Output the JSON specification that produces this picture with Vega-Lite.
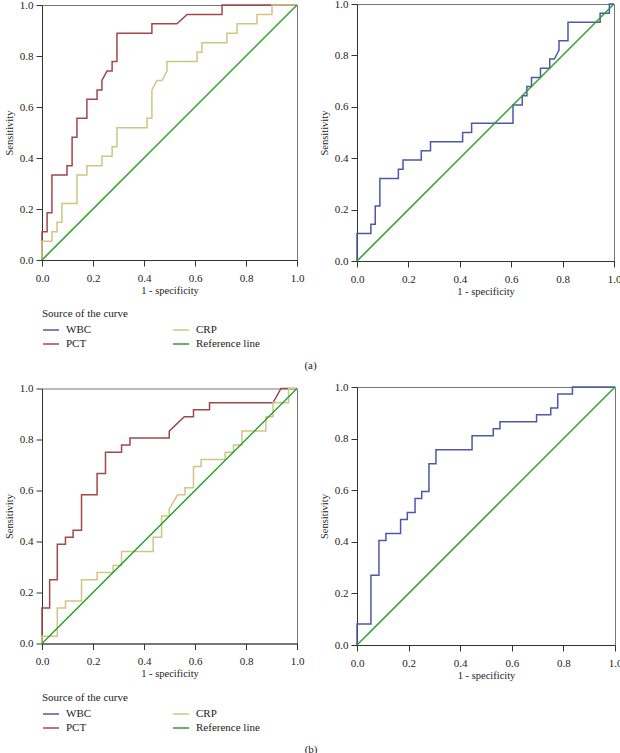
{
  "$schema": "https://vega.github.io/schema/vega-lite/v6.json",
  "padding": {"left": 3, "top": -3, "right": 0, "bottom": 0},
  "datasets": {
    "roc": [
      {"p":"a1","s":"PCT","o":0,"x":0,"y":0},{"p":"a1","s":"PCT","o":1,"x":0,"y":0.111},{"p":"a1","s":"PCT","o":2,"x":0.02,"y":0.111},{"p":"a1","s":"PCT","o":3,"x":0.02,"y":0.185},{"p":"a1","s":"PCT","o":4,"x":0.039,"y":0.185},{"p":"a1","s":"PCT","o":5,"x":0.039,"y":0.333},{"p":"a1","s":"PCT","o":6,"x":0.098,"y":0.333},{"p":"a1","s":"PCT","o":7,"x":0.098,"y":0.37},{"p":"a1","s":"PCT","o":8,"x":0.118,"y":0.37},{"p":"a1","s":"PCT","o":9,"x":0.118,"y":0.481},{"p":"a1","s":"PCT","o":10,"x":0.137,"y":0.481},{"p":"a1","s":"PCT","o":11,"x":0.137,"y":0.556},{"p":"a1","s":"PCT","o":12,"x":0.176,"y":0.556},{"p":"a1","s":"PCT","o":13,"x":0.176,"y":0.63},{"p":"a1","s":"PCT","o":14,"x":0.216,"y":0.63},{"p":"a1","s":"PCT","o":15,"x":0.216,"y":0.667},{"p":"a1","s":"PCT","o":16,"x":0.235,"y":0.667},{"p":"a1","s":"PCT","o":17,"x":0.235,"y":0.704},{"p":"a1","s":"PCT","o":18,"x":0.255,"y":0.741},{"p":"a1","s":"PCT","o":19,"x":0.275,"y":0.741},{"p":"a1","s":"PCT","o":20,"x":0.275,"y":0.778},{"p":"a1","s":"PCT","o":21,"x":0.294,"y":0.778},{"p":"a1","s":"PCT","o":22,"x":0.294,"y":0.889},{"p":"a1","s":"PCT","o":23,"x":0.431,"y":0.889},{"p":"a1","s":"PCT","o":24,"x":0.431,"y":0.926},{"p":"a1","s":"PCT","o":25,"x":0.529,"y":0.926},{"p":"a1","s":"PCT","o":26,"x":0.569,"y":0.963},{"p":"a1","s":"PCT","o":27,"x":0.706,"y":0.963},{"p":"a1","s":"PCT","o":28,"x":0.706,"y":1},{"p":"a1","s":"PCT","o":29,"x":1,"y":1},
      {"p":"a1","s":"CRP","o":0,"x":0,"y":0},{"p":"a1","s":"CRP","o":1,"x":0,"y":0.074},{"p":"a1","s":"CRP","o":2,"x":0.039,"y":0.074},{"p":"a1","s":"CRP","o":3,"x":0.039,"y":0.111},{"p":"a1","s":"CRP","o":4,"x":0.059,"y":0.111},{"p":"a1","s":"CRP","o":5,"x":0.059,"y":0.148},{"p":"a1","s":"CRP","o":6,"x":0.078,"y":0.148},{"p":"a1","s":"CRP","o":7,"x":0.078,"y":0.222},{"p":"a1","s":"CRP","o":8,"x":0.137,"y":0.222},{"p":"a1","s":"CRP","o":9,"x":0.137,"y":0.333},{"p":"a1","s":"CRP","o":10,"x":0.176,"y":0.333},{"p":"a1","s":"CRP","o":11,"x":0.176,"y":0.37},{"p":"a1","s":"CRP","o":12,"x":0.235,"y":0.37},{"p":"a1","s":"CRP","o":13,"x":0.235,"y":0.407},{"p":"a1","s":"CRP","o":14,"x":0.275,"y":0.407},{"p":"a1","s":"CRP","o":15,"x":0.275,"y":0.444},{"p":"a1","s":"CRP","o":16,"x":0.294,"y":0.444},{"p":"a1","s":"CRP","o":17,"x":0.294,"y":0.519},{"p":"a1","s":"CRP","o":18,"x":0.412,"y":0.519},{"p":"a1","s":"CRP","o":19,"x":0.412,"y":0.556},{"p":"a1","s":"CRP","o":20,"x":0.431,"y":0.556},{"p":"a1","s":"CRP","o":21,"x":0.431,"y":0.667},{"p":"a1","s":"CRP","o":22,"x":0.451,"y":0.704},{"p":"a1","s":"CRP","o":23,"x":0.471,"y":0.704},{"p":"a1","s":"CRP","o":24,"x":0.49,"y":0.741},{"p":"a1","s":"CRP","o":25,"x":0.49,"y":0.778},{"p":"a1","s":"CRP","o":26,"x":0.608,"y":0.778},{"p":"a1","s":"CRP","o":27,"x":0.608,"y":0.815},{"p":"a1","s":"CRP","o":28,"x":0.627,"y":0.815},{"p":"a1","s":"CRP","o":29,"x":0.627,"y":0.852},{"p":"a1","s":"CRP","o":30,"x":0.725,"y":0.852},{"p":"a1","s":"CRP","o":31,"x":0.725,"y":0.889},{"p":"a1","s":"CRP","o":32,"x":0.765,"y":0.889},{"p":"a1","s":"CRP","o":33,"x":0.765,"y":0.926},{"p":"a1","s":"CRP","o":34,"x":0.843,"y":0.926},{"p":"a1","s":"CRP","o":35,"x":0.843,"y":0.963},{"p":"a1","s":"CRP","o":36,"x":0.902,"y":0.963},{"p":"a1","s":"CRP","o":37,"x":0.902,"y":1},{"p":"a1","s":"CRP","o":38,"x":1,"y":1},
      {"p":"a1","s":"Reference line","o":0,"x":0,"y":0},{"p":"a1","s":"Reference line","o":1,"x":1,"y":1},
      {"p":"a2","s":"WBC","o":0,"x":0,"y":0},{"p":"a2","s":"WBC","o":1,"x":0,"y":0.107},{"p":"a2","s":"WBC","o":2,"x":0.054,"y":0.107},{"p":"a2","s":"WBC","o":3,"x":0.054,"y":0.143},{"p":"a2","s":"WBC","o":4,"x":0.071,"y":0.143},{"p":"a2","s":"WBC","o":5,"x":0.071,"y":0.214},{"p":"a2","s":"WBC","o":6,"x":0.089,"y":0.214},{"p":"a2","s":"WBC","o":7,"x":0.089,"y":0.321},{"p":"a2","s":"WBC","o":8,"x":0.161,"y":0.321},{"p":"a2","s":"WBC","o":9,"x":0.161,"y":0.357},{"p":"a2","s":"WBC","o":10,"x":0.179,"y":0.357},{"p":"a2","s":"WBC","o":11,"x":0.179,"y":0.393},{"p":"a2","s":"WBC","o":12,"x":0.25,"y":0.393},{"p":"a2","s":"WBC","o":13,"x":0.25,"y":0.429},{"p":"a2","s":"WBC","o":14,"x":0.286,"y":0.429},{"p":"a2","s":"WBC","o":15,"x":0.286,"y":0.464},{"p":"a2","s":"WBC","o":16,"x":0.411,"y":0.464},{"p":"a2","s":"WBC","o":17,"x":0.411,"y":0.5},{"p":"a2","s":"WBC","o":18,"x":0.446,"y":0.5},{"p":"a2","s":"WBC","o":19,"x":0.446,"y":0.536},{"p":"a2","s":"WBC","o":20,"x":0.607,"y":0.536},{"p":"a2","s":"WBC","o":21,"x":0.607,"y":0.607},{"p":"a2","s":"WBC","o":22,"x":0.643,"y":0.607},{"p":"a2","s":"WBC","o":23,"x":0.643,"y":0.643},{"p":"a2","s":"WBC","o":24,"x":0.661,"y":0.643},{"p":"a2","s":"WBC","o":25,"x":0.661,"y":0.679},{"p":"a2","s":"WBC","o":26,"x":0.679,"y":0.679},{"p":"a2","s":"WBC","o":27,"x":0.679,"y":0.714},{"p":"a2","s":"WBC","o":28,"x":0.714,"y":0.714},{"p":"a2","s":"WBC","o":29,"x":0.714,"y":0.75},{"p":"a2","s":"WBC","o":30,"x":0.75,"y":0.75},{"p":"a2","s":"WBC","o":31,"x":0.75,"y":0.786},{"p":"a2","s":"WBC","o":32,"x":0.768,"y":0.786},{"p":"a2","s":"WBC","o":33,"x":0.786,"y":0.821},{"p":"a2","s":"WBC","o":34,"x":0.786,"y":0.857},{"p":"a2","s":"WBC","o":35,"x":0.821,"y":0.857},{"p":"a2","s":"WBC","o":36,"x":0.821,"y":0.929},{"p":"a2","s":"WBC","o":37,"x":0.946,"y":0.929},{"p":"a2","s":"WBC","o":38,"x":0.946,"y":0.964},{"p":"a2","s":"WBC","o":39,"x":0.982,"y":0.964},{"p":"a2","s":"WBC","o":40,"x":0.982,"y":1},{"p":"a2","s":"WBC","o":41,"x":1,"y":1},
      {"p":"a2","s":"Reference line","o":0,"x":0,"y":0},{"p":"a2","s":"Reference line","o":1,"x":1,"y":1},
      {"p":"b1","s":"PCT","o":0,"x":0,"y":0},{"p":"b1","s":"PCT","o":1,"x":0,"y":0.139},{"p":"b1","s":"PCT","o":2,"x":0.03,"y":0.139},{"p":"b1","s":"PCT","o":3,"x":0.03,"y":0.25},{"p":"b1","s":"PCT","o":4,"x":0.06,"y":0.25},{"p":"b1","s":"PCT","o":5,"x":0.06,"y":0.389},{"p":"b1","s":"PCT","o":6,"x":0.092,"y":0.389},{"p":"b1","s":"PCT","o":7,"x":0.092,"y":0.417},{"p":"b1","s":"PCT","o":8,"x":0.122,"y":0.417},{"p":"b1","s":"PCT","o":9,"x":0.122,"y":0.444},{"p":"b1","s":"PCT","o":10,"x":0.155,"y":0.444},{"p":"b1","s":"PCT","o":11,"x":0.155,"y":0.583},{"p":"b1","s":"PCT","o":12,"x":0.216,"y":0.583},{"p":"b1","s":"PCT","o":13,"x":0.216,"y":0.667},{"p":"b1","s":"PCT","o":14,"x":0.249,"y":0.667},{"p":"b1","s":"PCT","o":15,"x":0.249,"y":0.75},{"p":"b1","s":"PCT","o":16,"x":0.312,"y":0.75},{"p":"b1","s":"PCT","o":17,"x":0.312,"y":0.778},{"p":"b1","s":"PCT","o":18,"x":0.345,"y":0.778},{"p":"b1","s":"PCT","o":19,"x":0.345,"y":0.806},{"p":"b1","s":"PCT","o":20,"x":0.499,"y":0.806},{"p":"b1","s":"PCT","o":21,"x":0.499,"y":0.833},{"p":"b1","s":"PCT","o":22,"x":0.558,"y":0.889},{"p":"b1","s":"PCT","o":23,"x":0.594,"y":0.889},{"p":"b1","s":"PCT","o":24,"x":0.594,"y":0.917},{"p":"b1","s":"PCT","o":25,"x":0.657,"y":0.917},{"p":"b1","s":"PCT","o":26,"x":0.657,"y":0.944},{"p":"b1","s":"PCT","o":27,"x":0.906,"y":0.944},{"p":"b1","s":"PCT","o":28,"x":0.937,"y":1},{"p":"b1","s":"PCT","o":29,"x":1,"y":1},
      {"p":"b1","s":"CRP","o":0,"x":0,"y":0},{"p":"b1","s":"CRP","o":1,"x":0,"y":0.028},{"p":"b1","s":"CRP","o":2,"x":0.06,"y":0.028},{"p":"b1","s":"CRP","o":3,"x":0.06,"y":0.139},{"p":"b1","s":"CRP","o":4,"x":0.092,"y":0.139},{"p":"b1","s":"CRP","o":5,"x":0.092,"y":0.167},{"p":"b1","s":"CRP","o":6,"x":0.155,"y":0.167},{"p":"b1","s":"CRP","o":7,"x":0.155,"y":0.25},{"p":"b1","s":"CRP","o":8,"x":0.216,"y":0.25},{"p":"b1","s":"CRP","o":9,"x":0.216,"y":0.278},{"p":"b1","s":"CRP","o":10,"x":0.279,"y":0.278},{"p":"b1","s":"CRP","o":11,"x":0.279,"y":0.306},{"p":"b1","s":"CRP","o":12,"x":0.312,"y":0.306},{"p":"b1","s":"CRP","o":13,"x":0.312,"y":0.361},{"p":"b1","s":"CRP","o":14,"x":0.436,"y":0.361},{"p":"b1","s":"CRP","o":15,"x":0.436,"y":0.417},{"p":"b1","s":"CRP","o":16,"x":0.469,"y":0.417},{"p":"b1","s":"CRP","o":17,"x":0.469,"y":0.5},{"p":"b1","s":"CRP","o":18,"x":0.499,"y":0.5},{"p":"b1","s":"CRP","o":19,"x":0.499,"y":0.528},{"p":"b1","s":"CRP","o":20,"x":0.532,"y":0.583},{"p":"b1","s":"CRP","o":21,"x":0.561,"y":0.583},{"p":"b1","s":"CRP","o":22,"x":0.561,"y":0.611},{"p":"b1","s":"CRP","o":23,"x":0.594,"y":0.611},{"p":"b1","s":"CRP","o":24,"x":0.594,"y":0.694},{"p":"b1","s":"CRP","o":25,"x":0.624,"y":0.694},{"p":"b1","s":"CRP","o":26,"x":0.624,"y":0.722},{"p":"b1","s":"CRP","o":27,"x":0.718,"y":0.722},{"p":"b1","s":"CRP","o":28,"x":0.718,"y":0.75},{"p":"b1","s":"CRP","o":29,"x":0.751,"y":0.75},{"p":"b1","s":"CRP","o":30,"x":0.751,"y":0.778},{"p":"b1","s":"CRP","o":31,"x":0.784,"y":0.778},{"p":"b1","s":"CRP","o":32,"x":0.784,"y":0.833},{"p":"b1","s":"CRP","o":33,"x":0.878,"y":0.833},{"p":"b1","s":"CRP","o":34,"x":0.878,"y":0.889},{"p":"b1","s":"CRP","o":35,"x":0.906,"y":0.889},{"p":"b1","s":"CRP","o":36,"x":0.906,"y":0.944},{"p":"b1","s":"CRP","o":37,"x":0.967,"y":0.944},{"p":"b1","s":"CRP","o":38,"x":0.967,"y":1},{"p":"b1","s":"CRP","o":39,"x":1,"y":1},
      {"p":"b1","s":"Reference line","o":0,"x":0,"y":0},{"p":"b1","s":"Reference line","o":1,"x":1,"y":1},
      {"p":"b2","s":"WBC","o":0,"x":0,"y":0},{"p":"b2","s":"WBC","o":1,"x":0,"y":0.081},{"p":"b2","s":"WBC","o":2,"x":0.054,"y":0.081},{"p":"b2","s":"WBC","o":3,"x":0.054,"y":0.27},{"p":"b2","s":"WBC","o":4,"x":0.085,"y":0.27},{"p":"b2","s":"WBC","o":5,"x":0.085,"y":0.405},{"p":"b2","s":"WBC","o":6,"x":0.112,"y":0.405},{"p":"b2","s":"WBC","o":7,"x":0.112,"y":0.432},{"p":"b2","s":"WBC","o":8,"x":0.169,"y":0.432},{"p":"b2","s":"WBC","o":9,"x":0.169,"y":0.486},{"p":"b2","s":"WBC","o":10,"x":0.195,"y":0.486},{"p":"b2","s":"WBC","o":11,"x":0.195,"y":0.514},{"p":"b2","s":"WBC","o":12,"x":0.225,"y":0.514},{"p":"b2","s":"WBC","o":13,"x":0.225,"y":0.568},{"p":"b2","s":"WBC","o":14,"x":0.251,"y":0.568},{"p":"b2","s":"WBC","o":15,"x":0.251,"y":0.595},{"p":"b2","s":"WBC","o":16,"x":0.279,"y":0.595},{"p":"b2","s":"WBC","o":17,"x":0.279,"y":0.703},{"p":"b2","s":"WBC","o":18,"x":0.306,"y":0.703},{"p":"b2","s":"WBC","o":19,"x":0.306,"y":0.757},{"p":"b2","s":"WBC","o":20,"x":0.446,"y":0.757},{"p":"b2","s":"WBC","o":21,"x":0.446,"y":0.811},{"p":"b2","s":"WBC","o":22,"x":0.528,"y":0.811},{"p":"b2","s":"WBC","o":23,"x":0.528,"y":0.838},{"p":"b2","s":"WBC","o":24,"x":0.554,"y":0.838},{"p":"b2","s":"WBC","o":25,"x":0.554,"y":0.865},{"p":"b2","s":"WBC","o":26,"x":0.696,"y":0.865},{"p":"b2","s":"WBC","o":27,"x":0.696,"y":0.892},{"p":"b2","s":"WBC","o":28,"x":0.751,"y":0.892},{"p":"b2","s":"WBC","o":29,"x":0.751,"y":0.919},{"p":"b2","s":"WBC","o":30,"x":0.778,"y":0.919},{"p":"b2","s":"WBC","o":31,"x":0.778,"y":0.973},{"p":"b2","s":"WBC","o":32,"x":0.835,"y":0.973},{"p":"b2","s":"WBC","o":33,"x":0.835,"y":1},{"p":"b2","s":"WBC","o":34,"x":1,"y":1},
      {"p":"b2","s":"Reference line","o":0,"x":0,"y":0},{"p":"b2","s":"Reference line","o":1,"x":1,"y":1}
    ]
  },
  "data": {"name": "roc"},
  "config": {
    "font": "Liberation Serif",
    "view": {"stroke": "#777", "strokeWidth": 1},
    "axis": {"grid": false, "labelFlush": false, "domainColor": "#333", "tickColor": "#333", "labelFontSize": 11, "titleFontSize": 10.5, "titleFontWeight": "normal", "labelColor": "#222", "titleColor": "#222", "tickSize": 6},
    "axisX": {"labelPadding": 6, "titlePadding": 2},
    "axisY": {"labelPadding": 3, "titlePadding": 5},
    "legend": {"orient": "bottom", "columns": 2, "symbolType": "stroke", "symbolSize": 256, "symbolStrokeWidth": 1.5, "labelFontSize": 11, "titleFontSize": 11, "titleFontWeight": "normal", "titleColor": "#222", "labelColor": "#222", "columnPadding": 78, "rowPadding": -4, "offset": 11, "titlePadding": 2, "labelOffset": 6},
    "title": {"fontSize": 11, "fontWeight": "normal", "color": "#222", "offset": 11, "dx": -2},
    "line": {"strokeWidth": 1.5}
  },
  "resolve": {"scale": {"color": "independent"}},
  "spacing": 9,
  "vconcat": [
    {
      "title": {"text": "(a)", "orient": "bottom", "anchor": "middle"},
      "spacing": 13,
      "center": true,
      "hconcat": [
        {"width": 255, "height": 255, "transform": [{"filter": "datum.p == 'a1'"}], "mark": "line",
         "encoding": {
           "x": {"field": "x", "type": "quantitative", "scale": {"domain": [0, 1], "nice": false}, "axis": {"values": [0, 0.2, 0.4, 0.6, 0.8, 1], "format": ".1f", "title": "1 - specificity"}},
           "y": {"field": "y", "type": "quantitative", "scale": {"domain": [0, 1], "nice": false}, "axis": {"values": [0, 0.2, 0.4, 0.6, 0.8, 1], "format": ".1f", "title": "Sensitivity"}},
           "color": {"field": "s", "type": "nominal", "scale": {"domain": ["WBC", "CRP", "PCT", "Reference line"], "range": ["#4e58a6", "#cfc584", "#a2474b", "#2ca02c"]}, "legend": {"title": "Source of the curve"}},
           "order": {"field": "o", "type": "quantitative"}
         }},
        {"width": 257, "height": 257, "transform": [{"filter": "datum.p == 'a2'"}], "mark": "line",
         "encoding": {
           "x": {"field": "x", "type": "quantitative", "scale": {"domain": [0, 1], "nice": false}, "axis": {"values": [0, 0.2, 0.4, 0.6, 0.8, 1], "format": ".1f", "title": "1 - specificity"}},
           "y": {"field": "y", "type": "quantitative", "scale": {"domain": [0, 1], "nice": false}, "axis": {"values": [0, 0.2, 0.4, 0.6, 0.8, 1], "format": ".1f", "title": "Sensitivity"}},
           "color": {"field": "s", "type": "nominal", "scale": {"domain": ["WBC", "CRP", "PCT", "Reference line"], "range": ["#4e58a6", "#cfc584", "#a2474b", "#2ca02c"]}, "legend": {"title": "Source of the curve"}},
           "order": {"field": "o", "type": "quantitative"}
         }}
      ]
    },
    {
      "title": {"text": "(b)", "orient": "bottom", "anchor": "middle"},
      "spacing": 13,
      "center": true,
      "hconcat": [
        {"width": 255, "height": 255, "transform": [{"filter": "datum.p == 'b1'"}], "mark": "line",
         "encoding": {
           "x": {"field": "x", "type": "quantitative", "scale": {"domain": [0, 1], "nice": false}, "axis": {"values": [0, 0.2, 0.4, 0.6, 0.8, 1], "format": ".1f", "title": "1 - specificity"}},
           "y": {"field": "y", "type": "quantitative", "scale": {"domain": [0, 1], "nice": false}, "axis": {"values": [0, 0.2, 0.4, 0.6, 0.8, 1], "format": ".1f", "title": "Sensitivity"}},
           "color": {"field": "s", "type": "nominal", "scale": {"domain": ["WBC", "CRP", "PCT", "Reference line"], "range": ["#4e58a6", "#cfc584", "#a2474b", "#2ca02c"]}, "legend": {"title": "Source of the curve"}},
           "order": {"field": "o", "type": "quantitative"}
         }},
        {"width": 258, "height": 258, "transform": [{"filter": "datum.p == 'b2'"}], "mark": "line",
         "encoding": {
           "x": {"field": "x", "type": "quantitative", "scale": {"domain": [0, 1], "nice": false}, "axis": {"values": [0, 0.2, 0.4, 0.6, 0.8, 1], "format": ".1f", "title": "1 - specificity"}},
           "y": {"field": "y", "type": "quantitative", "scale": {"domain": [0, 1], "nice": false}, "axis": {"values": [0, 0.2, 0.4, 0.6, 0.8, 1], "format": ".1f", "title": "Sensitivity"}},
           "color": {"field": "s", "type": "nominal", "scale": {"domain": ["WBC", "CRP", "PCT", "Reference line"], "range": ["#4e58a6", "#cfc584", "#a2474b", "#2ca02c"]}, "legend": {"title": "Source of the curve"}},
           "order": {"field": "o", "type": "quantitative"}
         }}
      ]
    }
  ]
}
